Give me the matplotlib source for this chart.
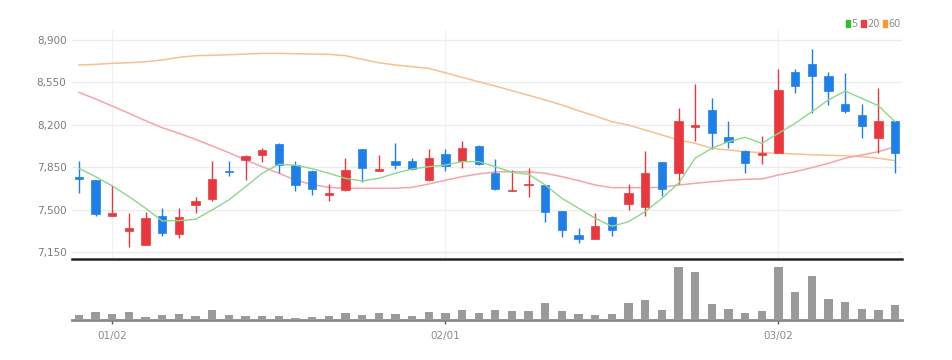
import matplotlib
matplotlib.use("Agg")
import matplotlib.pyplot as plt
from matplotlib.patches import Patch

dates = ['12/28', '12/29', '01/02', '01/03', '01/04', '01/05', '01/06', '01/09', '01/10', '01/11',
         '01/12', '01/13', '01/16', '01/17', '01/18', '01/19', '01/20', '01/25', '01/26', '01/27',
         '01/30', '01/31', '02/01', '02/02', '02/03', '02/06', '02/07', '02/08', '02/09', '02/10',
         '02/13', '02/14', '02/15', '02/16', '02/17', '02/20', '02/21', '02/22', '02/23', '02/24',
         '02/27', '02/28', '03/02', '03/03', '03/06', '03/07', '03/08', '03/09', '03/10', '03/13']

opens = [7770, 7745, 7450, 7320, 7210, 7445, 7300, 7535, 7590, 7820,
         7910, 7950, 8045, 7865, 7820, 7620, 7660, 8000, 7820, 7905,
         7905, 7745, 7960, 7900, 8025, 7800, 7655, 7700, 7700, 7490,
         7290, 7255, 7435, 7545, 7520, 7890, 7800, 8185, 8320, 8100,
         7985, 7952, 7970, 8635, 8700, 8600, 8375, 8280, 8095, 8230]
highs = [7900, 7745, 7700, 7470, 7480, 7510, 7510, 7605, 7905, 7905,
         7950, 8005, 8050, 7900, 7830, 7715, 7930, 8000, 7950, 8050,
         7930, 8000, 8000, 8065, 8030, 7920, 7825, 7840, 7700, 7490,
         7350, 7470, 7445, 7710, 7980, 7895, 8340, 8535, 8425, 8230,
         7990, 8110, 8665, 8665, 8825, 8640, 8625, 8375, 8500, 8230]
lows = [7640, 7450, 7450, 7195, 7205, 7285, 7265, 7470, 7570, 7780,
        7745, 7890, 7800, 7655, 7620, 7575, 7655, 7730, 7815, 7835,
        7830, 7735, 7820, 7840, 7870, 7665, 7655, 7600, 7395, 7275,
        7220, 7255, 7285, 7495, 7450, 7615, 7715, 8065, 8000, 8005,
        7800, 7880, 7965, 8465, 8295, 8365, 8295, 8095, 7970, 7805]
closes = [7755, 7460, 7470, 7350, 7430, 7310, 7435, 7570, 7755, 7810,
          7945, 7990, 7870, 7705, 7670, 7635, 7825, 7840, 7835, 7870,
          7835, 7930, 7860, 8010, 7875, 7670, 7665, 7708, 7480, 7330,
          7255, 7365, 7335, 7635, 7800, 7670, 8230, 8195, 8135, 8055,
          7885, 7965, 8490, 8520, 8605, 8480, 8315, 8190, 8230, 7965]

ma5 = [7840, 7772, 7695, 7607, 7511, 7406, 7409, 7420, 7497, 7580,
       7689, 7800, 7874, 7866, 7838, 7800, 7758, 7736, 7758, 7800,
       7835, 7854, 7868, 7896, 7896, 7854, 7808, 7791, 7703, 7593,
       7511, 7428, 7362, 7400, 7483, 7593, 7717, 7924, 8006, 8061,
       8097, 8047, 8130, 8212, 8308, 8405, 8479, 8419, 8358, 8226]
ma20 = [8468, 8413, 8355, 8295, 8234, 8176, 8130, 8080, 8025, 7970,
        7910, 7854, 7800, 7744, 7706, 7684, 7676, 7676, 7676, 7676,
        7684, 7711, 7742, 7772, 7794, 7811, 7813, 7811, 7800, 7772,
        7739, 7703, 7681, 7681, 7681, 7684, 7703, 7717, 7730, 7742,
        7750, 7753, 7786, 7813, 7846, 7882, 7924, 7951, 7978, 8019]
ma60 = [8694, 8699, 8708, 8713, 8721, 8735, 8757, 8771, 8774, 8779,
        8784, 8790, 8790, 8787, 8784, 8782, 8771, 8741, 8713, 8694,
        8680, 8666, 8630, 8592, 8556, 8520, 8482, 8444, 8405, 8364,
        8316, 8273, 8226, 8198, 8157, 8116, 8075, 8047, 8006, 7992,
        7978, 7970, 7965, 7959, 7953, 7948, 7945, 7937, 7924, 7904]
volumes = [5000, 7700, 6000, 7700, 3300, 5000, 5700, 4300, 10000, 5000,
           4000, 4000, 4000, 2300, 3300, 4000, 7300, 5000, 7300, 5700,
           4000, 7700, 7300, 10000, 7300, 10000, 8700, 8700, 17300, 9300,
           6000, 5000, 6000, 17300, 20000, 10000, 53300, 48300, 15700, 10700,
           7300, 9300, 52700, 27700, 44300, 20700, 18300, 10700, 10000, 15000]

y_ticks = [7150, 7500, 7850, 8200, 8550, 8900]
shown_dates = ['01/02', '02/01', '03/02']
ma_labels = ['5', '20', '60']

UP = '#e8383d'
DOWN = '#1f7fe8'
FONT = ['Liberation Sans Narrow', 'DejaVu Sans']
plt.rcParams['font.family'] = FONT

fig = plt.figure(figsize=(9.52, 3.6), dpi=100)
ax = fig.add_axes([72 / 952, 1 - 259 / 360, 830 / 952, 229 / 360])
axv = fig.add_axes([72 / 952, 1 - 320 / 360, 830 / 952, 58 / 360])

x = list(range(len(dates)))
tick_pos = [dates.index(d) for d in shown_dates]

for i in x:
    o, h, l, c = opens[i], highs[i], lows[i], closes[i]
    col = UP if c >= o else DOWN
    ax.vlines(i, l, h, color=col, linewidth=1.0, zorder=3)
    ax.bar(i, max(abs(c - o), 8), bottom=min(o, c), width=0.5, color=col,
           edgecolor=col, linewidth=0.5, zorder=4)

ax.plot(x, ma60, color='#f7c08e', linewidth=1.1, zorder=2)
ax.plot(x, ma20, color='#f5a4a8', linewidth=1.1, zorder=2)
ax.plot(x, ma5, color='#8ad88a', linewidth=1.0, zorder=5)

ax.set_xlim(-0.42, len(dates) - 1 + 0.42)
ax.set_ylim(7092, 8983)
ax.set_yticks(y_ticks)
ax.set_yticklabels([f'{v:,}' for v in y_ticks])
ax.set_xticks(tick_pos)
ax.tick_params(axis='x', length=0, labelbottom=False)
ax.tick_params(axis='y', length=0, labelsize=7.5, colors='#7a7a7a', pad=4)
ax.grid(axis='y', color='#ececec', linewidth=1.0)
ax.grid(axis='x', color='#f0f0f0', linewidth=0.8)
ax.set_axisbelow(True)
for s in ['top', 'right', 'left']:
    ax.spines[s].set_visible(False)
ax.spines['bottom'].set_color('#222222')
ax.spines['bottom'].set_linewidth(1.8)

handles = [Patch(facecolor=c, edgecolor=c) for c in ['#2fbf2f', '#f03c44', '#f59a32']]
leg = ax.legend(handles, ma_labels, loc='lower right', bbox_to_anchor=(1.0, 1.0),
                ncol=3, frameon=False, fontsize=7, handlelength=0.45, handleheight=0.8,
                handletextpad=0.15, columnspacing=0.35, borderaxespad=0.0, borderpad=0.1)
for t in leg.get_texts():
    t.set_color('#8a8a8a')

axv.bar(x, volumes, width=0.5, color='#9a9a9a', zorder=3)
axv.set_xlim(-0.42, len(dates) - 1 + 0.42)
axv.set_ylim(0, 58000)
axv.set_yticks([])
axv.set_xticks(tick_pos)
axv.set_xticklabels(shown_dates)
axv.tick_params(axis='x', length=3, width=1, color='#555555', labelsize=7.5,
                labelcolor='#8a8a8a', pad=5)
for s in ['top', 'right', 'left']:
    axv.spines[s].set_visible(False)
axv.spines['bottom'].set_color('#8a8a8a')
axv.spines['bottom'].set_linewidth(2.0)

fig.savefig('out.png', dpi=100)
